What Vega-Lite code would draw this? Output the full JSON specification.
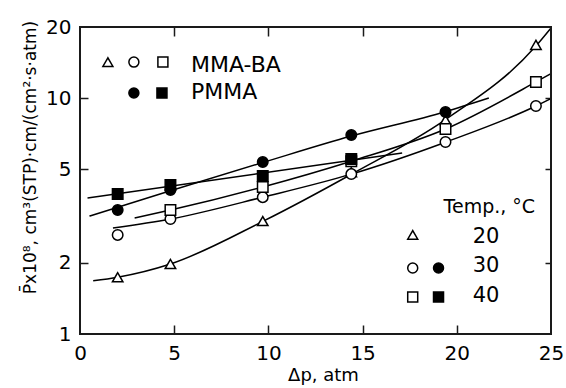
{
  "$schema": "https://vega.github.io/schema/vega-lite/v6.json",
  "padding": {"left": 20, "top": 17, "right": 5, "bottom": 5},
  "width": 471,
  "height": 307,
  "background": "white",
  "config": {
    "view": {"stroke": "#1a1a1a", "strokeWidth": 2},
    "font": "DejaVu Sans",
    "axis": {
      "domain": false,
      "tickColor": "#1a1a1a",
      "tickWidth": 1.5,
      "grid": false,
      "labelColor": "black",
      "labelFont": "DejaVu Sans",
      "labelFontSize": 20,
      "labelFlush": false,
      "labelOverlap": false,
      "titleColor": "black",
      "titleFont": "DejaVu Sans",
      "titleFontWeight": "normal"
    }
  },
  "datasets": {
    "frame": [
      {"x": 0, "x2": 0, "y": 1, "y2": 20},
      {"x": 25, "x2": 25, "y": 1, "y2": 20},
      {"x": 0, "x2": 25, "y": 1, "y2": 1},
      {"x": 0, "x2": 25, "y": 20, "y2": 20}
    ],
    "curves": [
      {"series": "T20", "x": 0.7, "y": 1.68},
      {"series": "T20", "x": 2.0, "y": 1.74},
      {"series": "T20", "x": 4.8, "y": 1.98},
      {"series": "T20", "x": 9.7, "y": 3.0},
      {"series": "T20", "x": 14.5, "y": 4.8},
      {"series": "T20", "x": 19.4, "y": 8.1},
      {"series": "T20", "x": 24.2, "y": 16.6},
      {"series": "T20", "x": 25.0, "y": 19.8},
      {"series": "C30M", "x": 1.75, "y": 2.81},
      {"series": "C30M", "x": 4.8, "y": 3.07},
      {"series": "C30M", "x": 9.7, "y": 3.8},
      {"series": "C30M", "x": 14.4, "y": 4.76},
      {"series": "C30M", "x": 19.4, "y": 6.5},
      {"series": "C30M", "x": 24.2, "y": 9.25},
      {"series": "C30M", "x": 25.0, "y": 9.95},
      {"series": "S40M", "x": 2.9, "y": 3.1},
      {"series": "S40M", "x": 4.8, "y": 3.35},
      {"series": "S40M", "x": 9.7, "y": 4.2},
      {"series": "S40M", "x": 14.4, "y": 5.4},
      {"series": "S40M", "x": 19.4, "y": 7.39},
      {"series": "S40M", "x": 24.2, "y": 11.7},
      {"series": "S40M", "x": 25.0, "y": 12.7},
      {"series": "C30P", "x": 0.5, "y": 3.16},
      {"series": "C30P", "x": 4.8, "y": 4.05},
      {"series": "C30P", "x": 9.7, "y": 5.33},
      {"series": "C30P", "x": 14.4, "y": 6.9},
      {"series": "C30P", "x": 19.4, "y": 8.75},
      {"series": "C30P", "x": 21.7, "y": 10.0},
      {"series": "S40P", "x": 0.4, "y": 3.77},
      {"series": "S40P", "x": 17.1, "y": 5.85}
    ],
    "points": [
      {"temp": "20", "polymer": "MMA-BA", "x": 2.0, "y": 1.74},
      {"temp": "20", "polymer": "MMA-BA", "x": 4.8, "y": 1.98},
      {"temp": "20", "polymer": "MMA-BA", "x": 9.7, "y": 3.01},
      {"temp": "20", "polymer": "MMA-BA", "x": 14.4, "y": 4.85},
      {"temp": "20", "polymer": "MMA-BA", "x": 19.4, "y": 8.07},
      {"temp": "20", "polymer": "MMA-BA", "x": 24.2, "y": 16.8},
      {"temp": "30", "polymer": "MMA-BA", "x": 2.0, "y": 2.63},
      {"temp": "30", "polymer": "MMA-BA", "x": 4.8, "y": 3.07},
      {"temp": "30", "polymer": "MMA-BA", "x": 9.7, "y": 3.8},
      {"temp": "30", "polymer": "MMA-BA", "x": 14.4, "y": 4.76},
      {"temp": "30", "polymer": "MMA-BA", "x": 19.4, "y": 6.51},
      {"temp": "30", "polymer": "MMA-BA", "x": 24.2, "y": 9.25},
      {"temp": "40", "polymer": "MMA-BA", "x": 4.8, "y": 3.35},
      {"temp": "40", "polymer": "MMA-BA", "x": 9.7, "y": 4.2},
      {"temp": "40", "polymer": "MMA-BA", "x": 14.4, "y": 5.4},
      {"temp": "40", "polymer": "MMA-BA", "x": 19.4, "y": 7.39},
      {"temp": "40", "polymer": "MMA-BA", "x": 24.2, "y": 11.7},
      {"temp": "30", "polymer": "PMMA", "x": 2.0, "y": 3.35},
      {"temp": "30", "polymer": "PMMA", "x": 4.8, "y": 4.08},
      {"temp": "30", "polymer": "PMMA", "x": 9.7, "y": 5.36},
      {"temp": "30", "polymer": "PMMA", "x": 14.4, "y": 6.97},
      {"temp": "30", "polymer": "PMMA", "x": 19.4, "y": 8.72},
      {"temp": "40", "polymer": "PMMA", "x": 2.0, "y": 3.92},
      {"temp": "40", "polymer": "PMMA", "x": 4.8, "y": 4.28},
      {"temp": "40", "polymer": "PMMA", "x": 9.7, "y": 4.67},
      {"temp": "40", "polymer": "PMMA", "x": 14.4, "y": 5.51}
    ],
    "keysym": [
      {"temp": "20", "polymer": "MMA-BA", "kx": 1.48, "ky": 14.2},
      {"temp": "30", "polymer": "MMA-BA", "kx": 2.86, "ky": 14.2},
      {"temp": "40", "polymer": "MMA-BA", "kx": 4.4, "ky": 14.2},
      {"temp": "30", "polymer": "PMMA", "kx": 2.86, "ky": 10.5},
      {"temp": "40", "polymer": "PMMA", "kx": 4.35, "ky": 10.5},
      {"temp": "20", "polymer": "MMA-BA", "kx": 17.66, "ky": 2.63},
      {"temp": "30", "polymer": "MMA-BA", "kx": 17.66, "ky": 1.905},
      {"temp": "30", "polymer": "PMMA", "kx": 19.03, "ky": 1.905},
      {"temp": "40", "polymer": "MMA-BA", "kx": 17.66, "ky": 1.435},
      {"temp": "40", "polymer": "PMMA", "kx": 19.03, "ky": 1.435}
    ],
    "keytext": [
      {"group": "polymer", "label": "MMA-BA", "kx": 5.89, "ky": 12.9},
      {"group": "polymer", "label": "PMMA", "kx": 5.89, "ky": 9.9},
      {"group": "heading", "label": "Temp., °C", "kx": 19.3, "ky": 3.26},
      {"group": "temp", "label": "20", "kx": 20.84, "ky": 2.43},
      {"group": "temp", "label": "30", "kx": 20.84, "ky": 1.83},
      {"group": "temp", "label": "40", "kx": 20.84, "ky": 1.366}
    ]
  },
  "resolve": {"axis": {"x": "independent", "y": "independent"}},
  "layer": [
    {
      "data": {"name": "curves"},
      "mark": {"type": "line", "color": "black", "strokeWidth": 1.5, "interpolate": "monotone"},
      "encoding": {
        "x": {
          "field": "x", "type": "quantitative",
          "scale": {"domain": [0, 25], "nice": false, "zero": false},
          "axis": {
            "orient": "bottom", "values": [0, 5, 10, 15, 20, 25], "format": "d",
            "ticks": false, "labelPadding": 9, "title": "Δp, atm", "titleFontSize": 18,
            "titleX": 243, "titleY": 46, "titleBaseline": "alphabetic", "titleAlign": "center"
          }
        },
        "y": {
          "field": "y", "type": "quantitative",
          "scale": {"type": "log", "domain": [1, 20], "nice": false},
          "axis": {
            "orient": "left", "values": [1, 2, 5, 10, 20], "format": "d",
            "ticks": false, "labelPadding": 9, "title": "P̄x10⁸,  cm³(STP)·cm/(cm²·s·atm)", "titleFontSize": 17,
            "titleAngle": 270, "titleX": -45, "titleY": 130, "titleBaseline": "alphabetic", "titleAlign": "center"
          }
        },
        "detail": {"field": "series", "type": "nominal"}
      }
    },
    {
      "data": {"name": "points"},
      "mark": {"type": "point", "filled": true, "stroke": "black", "strokeWidth": 1.5, "size": 110, "opacity": 1},
      "encoding": {
        "x": {"field": "x", "type": "quantitative",
              "axis": {"orient": "top", "offset": -307, "values": [5, 10, 15, 20], "labels": false, "title": null, "ticks": true, "tickSize": 9}},
        "y": {"field": "y", "type": "quantitative",
              "axis": {"orient": "right", "offset": -471, "values": [2, 5, 10], "labels": false, "title": null, "ticks": true, "tickSize": 8}},
        "shape": {"field": "temp", "type": "nominal", "scale": {"domain": ["20", "30", "40"], "range": ["triangle-up", "circle", "square"]}, "legend": null},
        "fill": {"field": "polymer", "type": "nominal", "scale": {"domain": ["MMA-BA", "PMMA"], "range": ["white", "black"]}, "legend": null}
      }
    },
    {
      "data": {"name": "keysym"},
      "mark": {"type": "point", "filled": true, "stroke": "black", "strokeWidth": 1.5, "size": 100, "opacity": 1},
      "encoding": {
        "x": {"field": "kx", "type": "quantitative",
              "axis": {"orient": "bottom", "offset": -307, "values": [5, 10, 15, 20], "labels": false, "title": null, "ticks": true, "tickSize": 9}},
        "y": {"field": "ky", "type": "quantitative",
              "axis": {"orient": "left", "offset": -471, "values": [2, 5, 10], "labels": false, "title": null, "ticks": true, "tickSize": 6}},
        "shape": {"field": "temp", "type": "nominal", "legend": null},
        "fill": {"field": "polymer", "type": "nominal", "legend": null}
      }
    },
    {
      "data": {"name": "keytext"},
      "transform": [{"filter": "datum.group == 'polymer'"}],
      "mark": {"type": "text", "align": "left", "baseline": "alphabetic", "fontSize": 22, "font": "DejaVu Sans", "color": "black"},
      "encoding": {
        "x": {"field": "kx", "type": "quantitative", "axis": null},
        "y": {"field": "ky", "type": "quantitative", "axis": null},
        "text": {"field": "label"}
      }
    },
    {
      "data": {"name": "keytext"},
      "transform": [{"filter": "datum.group == 'heading'"}],
      "mark": {"type": "text", "align": "left", "baseline": "alphabetic", "fontSize": 19, "font": "DejaVu Sans", "color": "black"},
      "encoding": {
        "x": {"field": "kx", "type": "quantitative", "axis": null},
        "y": {"field": "ky", "type": "quantitative", "axis": null},
        "text": {"field": "label"}
      }
    },
    {
      "data": {"name": "keytext"},
      "transform": [{"filter": "datum.group == 'temp'"}],
      "mark": {"type": "text", "align": "left", "baseline": "alphabetic", "fontSize": 21, "font": "DejaVu Sans", "color": "black"},
      "encoding": {
        "x": {"field": "kx", "type": "quantitative", "axis": null},
        "y": {"field": "ky", "type": "quantitative", "axis": null},
        "text": {"field": "label"}
      }
    },
    {
      "data": {"name": "frame"},
      "mark": {"type": "rule", "color": "#1a1a1a", "strokeWidth": 2},
      "encoding": {
        "x": {"field": "x", "type": "quantitative", "axis": null},
        "x2": {"field": "x2"},
        "y": {"field": "y", "type": "quantitative", "axis": null},
        "y2": {"field": "y2"}
      }
    }
  ]
}
